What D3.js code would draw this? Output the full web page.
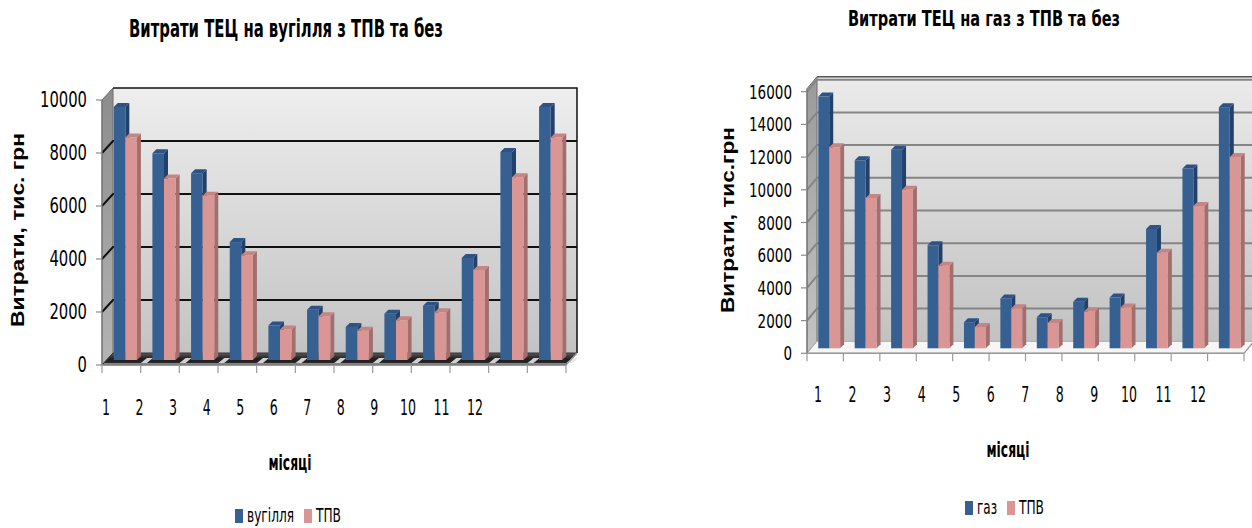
<!DOCTYPE html>
<html>
<head>
<meta charset="utf-8">
<script src="https://cdn.jsdelivr.net/npm/d3@7/dist/d3.min.js"></script>
<style>
  html, body { margin: 0; padding: 0; background: #ffffff; }
  svg { display: block; }
  .num { font-family: "Liberation Sans Narrow", "Arial Narrow", "DejaVu Sans Condensed", sans-serif; fill: #000; }
  .bold { font-family: "Liberation Sans Narrow", "Arial Narrow", "DejaVu Sans Condensed", sans-serif; font-weight: bold; fill: #000; }
  .ytitle { font-family: "Liberation Sans", Arial, sans-serif; font-weight: bold; fill: #000; }
</style>
</head>
<body>
<svg id="chart" width="1252" height="528"></svg>
<script>
// ---------- data ----------
const months = ["1","2","3","4","5","6","7","8","9","10","11","12"];

const coalTitle = "Витрати ТЕЦ на вугілля з ТПВ та без";
const coalSeriesNames = ["вугілля", "ТПВ"];
const coalValues = [9550, 7800, 7050, 4450, 1300, 1900, 1250, 1750, 2050, 3850, 7850, 9550];
const coalTPV    = [8400, 6850, 6200, 3950, 1150, 1650, 1100, 1500, 1800, 3400, 6900, 8400];
const coalTicks  = [0, 2000, 4000, 6000, 8000, 10000];

const gasTitle = "Витрати ТЕЦ на газ з ТПВ та без";
const gasSeriesNames = ["газ", "ТПВ"];
const gasValues = [15400, 11500, 12150, 6300, 1600, 3050, 1900, 2850, 3100, 7300, 11000, 14750];
const gasTPV    = [12300, 9200, 9700, 5050, 1300, 2450, 1550, 2250, 2500, 5850, 8700, 11700];
const gasTicks  = [0, 2000, 4000, 6000, 8000, 10000, 12000, 14000, 16000];

const xTitleText = "місяці";
const coalYTitle = "Витрати, тис. грн";
const gasYTitle = "Витрати, тис.грн";

// ---------- styles ----------
const colors = {
  blue:  { front: "#376092", side: "#22406a", top: "#2d5283" },
  pink:  { front: "#d99694", side: "#a46e6d", top: "#c58584" }
};

const svg = d3.select("#chart");
const defs = svg.append("defs");

function grad(id, stops, vertical) {
  const g = defs.append("linearGradient").attr("id", id)
    .attr("x1", 0).attr("y1", 0).attr("x2", vertical ? 0 : 1).attr("y2", vertical ? 1 : 0);
  stops.forEach(s => g.append("stop").attr("offset", s[0]).attr("stop-color", s[1]));
}
grad("backL", [[0, "#eeeeee"], [1, "#c3c3c3"]], true);
grad("sideL", [[0, "#8c8c8c"], [1, "#b4b4b4"]], true);
grad("backR", [[0, "#ebebeb"], [1, "#c2c2c2"]], true);
grad("sideR", [[0, "#9a9a9a"], [1, "#c4c4c4"]], true);
grad("floorL", [[0, "#5a5a5a"], [0.5, "#1e1e1e"], [1, "#2c2c2c"]], true);

function drawChart(cfg) {
  const g = svg.append("g");
  const x = d3.scaleBand().domain(months).range([cfg.ax0, cfg.ax1]).paddingInner(0.4).paddingOuter(0.2);
  const y = d3.scaleLinear().domain([0, cfg.max]).range([cfg.y0, cfg.yTop]);
  const [bx, by] = cfg.back;   // offset of back wall
  const [ox, oy] = cfg.barOff; // offset of bar fronts
  const [dx, dy] = cfg.depth;  // bar depth
  const wallTop = y(cfg.max) + by - cfg.wallExtra;

  // back wall
  g.append("path")
    .attr("d", `M${cfg.ax0 + bx},${y(0) + by} L${cfg.ax0 + bx},${wallTop} L${cfg.ax1 + bx},${wallTop} L${cfg.ax1 + bx},${y(0) + by} Z`)
    .attr("fill", `url(#${cfg.backGrad})`).attr("stroke", "none");
  // left side wall
  g.append("path")
    .attr("d", `M${cfg.ax0},${y(0)} L${cfg.ax0},${wallTop - by} L${cfg.ax0 + bx},${wallTop} L${cfg.ax0 + bx},${y(0) + by} Z`)
    .attr("fill", `url(#${cfg.sideGrad})`).attr("stroke", "#6d6d6d").attr("stroke-width", 1);
  // wall outlines
  g.append("path")
    .attr("d", `M${cfg.ax0 + bx},${wallTop} L${cfg.ax1 + bx},${wallTop} L${cfg.ax1 + bx},${y(0) + by}`)
    .attr("fill", "none").attr("stroke", cfg.wallEdge).attr("stroke-width", 1.5);

  // gridlines
  cfg.ticks.filter(t => t > 0 && t < cfg.max || (t === cfg.max && cfg.gridTop)).forEach(t => {
    g.append("path")
      .attr("d", `M${cfg.ax0},${y(t)} L${cfg.ax0 + bx},${y(t) + by} L${cfg.ax1 + bx},${y(t) + by}`)
      .attr("fill", "none").attr("stroke", cfg.gridColor).attr("stroke-width", cfg.gridWidth);
  });

  // floor
  g.append("path")
    .attr("d", `M${cfg.ax0},${y(0)} L${cfg.ax1},${y(0)} L${cfg.ax1 + bx},${y(0) + by} L${cfg.ax0 + bx},${y(0) + by} Z`)
    .attr("fill", cfg.floorFill).attr("stroke", cfg.floorStroke).attr("stroke-width", 1);
  if (cfg.floorShine) {
    months.forEach((m, i) => {
      const xs = x(m) + x.bandwidth() + ox + 4;
      g.append("path")
        .attr("d", `M${xs},${y(0) - 2} L${xs + 6},${y(0) - 2} L${xs + 12},${y(0) + by + 5} L${xs + 6},${y(0) + by + 5} Z`)
        .attr("fill", "#e4e4e4").attr("opacity", 0.9);
    });
    g.append("line").attr("x1", cfg.ax0 + 2).attr("x2", cfg.ax1).attr("y1", y(0) - 1.5).attr("y2", y(0) - 1.5)
      .attr("stroke", "#7c9a3c").attr("stroke-width", 1.2);
  }

  // bars
  const bw = x.bandwidth() / 2;
  const series = [
    { vals: cfg.s1, col: colors.blue, k: 0 },
    { vals: cfg.s2, col: colors.pink, k: 1 }
  ];
  months.forEach((m, i) => {
    series.forEach(s => {
      const v = s.vals[i];
      const x0 = x(m) + ox + s.k * bw;
      const x1 = x0 + bw;
      const yb = y(0) + oy;
      const yt = y(v) + oy;
      g.append("path").attr("d", `M${x1},${yb} L${x1},${yt} L${x1 + dx},${yt + dy} L${x1 + dx},${yb + dy} Z`)
        .attr("fill", s.col.side);
      g.append("path").attr("d", `M${x0},${yt} L${x1},${yt} L${x1 + dx},${yt + dy} L${x0 + dx},${yt + dy} Z`)
        .attr("fill", s.col.top);
      g.append("rect").attr("x", x0).attr("y", yt).attr("width", bw).attr("height", yb - yt)
        .attr("fill", s.col.front);
    });
  });

  // value axis line and ticks
  g.append("line").attr("x1", cfg.ax0).attr("x2", cfg.ax0).attr("y1", y(0)).attr("y2", wallTop - by)
    .attr("stroke", "#7a7a7a").attr("stroke-width", 1.2);
  cfg.ticks.forEach(t => {
    const s = String(t);
    g.append("line").attr("x1", cfg.ax0 - 6).attr("x2", cfg.ax0).attr("y1", y(t)).attr("y2", y(t))
      .attr("stroke", "#8a8a8a").attr("stroke-width", 1.2);
    g.append("text").attr("class", "num").attr("x", cfg.ax0 - 15).attr("y", y(t))
      .attr("text-anchor", "end").attr("dominant-baseline", "central")
      .attr("font-size", cfg.yLabelSize)
      .attr("textLength", s.length * cfg.yDigitW).attr("lengthAdjust", "spacingAndGlyphs").text(s);
  });

  // category axis
  g.append("line").attr("x1", cfg.ax0).attr("x2", cfg.ax1).attr("y1", y(0)).attr("y2", y(0))
    .attr("stroke", "#9a9a9a").attr("stroke-width", 1.5);
  g.append("line").attr("x1", cfg.ax1).attr("x2", cfg.ax1 + bx).attr("y1", y(0)).attr("y2", y(0) + by)
    .attr("stroke", "#9a9a9a").attr("stroke-width", 1.2);
  const stepTicks = d3.range(months.length + 1).map(i => cfg.ax0 + i * x.step());
  stepTicks.forEach(tx => {
    g.append("line").attr("x1", tx).attr("x2", tx).attr("y1", y(0)).attr("y2", y(0) + 8)
      .attr("stroke", "#9a9a9a").attr("stroke-width", 1.2);
  });
  const lx = d3.scalePoint().domain(months).range(cfg.labelRange);
  months.forEach(m => {
    g.append("text").attr("class", "num").attr("x", lx(m)).attr("y", cfg.labelY)
      .attr("text-anchor", "middle").attr("font-size", 21)
      .attr("textLength", m.length * 8).attr("lengthAdjust", "spacingAndGlyphs").text(m);
  });

  // titles
  g.append("text").attr("class", "bold").attr("x", cfg.title.x).attr("y", cfg.title.y)
    .attr("text-anchor", "middle").attr("font-size", cfg.title.size)
    .attr("textLength", cfg.title.len).attr("lengthAdjust", "spacingAndGlyphs").text(cfg.title.text);
  g.append("text").attr("class", "bold").attr("x", cfg.xTitle.x).attr("y", cfg.xTitle.y)
    .attr("text-anchor", "middle").attr("font-size", 22)
    .attr("textLength", 43).attr("lengthAdjust", "spacingAndGlyphs").text(xTitleText);
  g.append("text").attr("class", "ytitle")
    .attr("transform", `translate(${cfg.yTitle.x},${cfg.yTitle.y}) rotate(-90)`)
    .attr("text-anchor", "middle").attr("dominant-baseline", "central").attr("font-size", 19)
    .attr("textLength", cfg.yTitle.len).attr("lengthAdjust", "spacingAndGlyphs").text(cfg.yTitle.text);

  // legend
  const L = cfg.legend;
  let cx = L.x;
  cfg.names.forEach((n, i) => {
    const c = i === 0 ? colors.blue.front : colors.pink.front;
    g.append("rect").attr("x", cx).attr("y", L.y).attr("width", 8).attr("height", 14).attr("fill", c);
    g.append("text").attr("class", "num").attr("x", cx + 12).attr("y", L.y + 13)
      .attr("font-size", 19).attr("textLength", L.lens[i]).attr("lengthAdjust", "spacingAndGlyphs").text(n);
    cx += 12 + L.lens[i] + 10;
  });
}

drawChart({
  ax0: 102, ax1: 566, y0: 365, yTop: 100, max: 10000, ticks: coalTicks,
  back: [11, -12], barOff: [4, -5], depth: [4, -4], wallExtra: 0,
  backGrad: "backL", sideGrad: "sideL", wallEdge: "#111", gridColor: "#111", gridWidth: 2, gridTop: false,
  floorFill: "url(#floorL)", floorStroke: "#333", floorShine: true,
  s1: coalValues, s2: coalTPV, names: coalSeriesNames,
  yLabelSize: 21, yDigitW: 9.4, labelRange: [106, 475], labelY: 415,
  title: { text: coalTitle, x: 286, y: 37, size: 25, len: 314 },
  xTitle: { x: 290, y: 470 },
  yTitle: { text: coalYTitle, x: 17, y: 230, len: 194 },
  legend: { x: 235, y: 509, lens: [47, 25] }
});

drawChart({
  ax0: 807, ax1: 1244, y0: 353.3, yTop: 91.7, max: 16000, ticks: gasTicks,
  back: [10, -12], barOff: [4, -5], depth: [4, -4], wallExtra: 3,
  backGrad: "backR", sideGrad: "sideR", wallEdge: "#555", gridColor: "#858585", gridWidth: 2, gridTop: true,
  floorFill: "#f6f6f6", floorStroke: "#a8a8a8", floorShine: false,
  s1: gasValues, s2: gasTPV, names: gasSeriesNames,
  yLabelSize: 19, yDigitW: 8.6, labelRange: [818, 1198], labelY: 402,
  title: { text: gasTitle, x: 984, y: 26, size: 21, len: 272 },
  xTitle: { x: 1008, y: 457 },
  yTitle: { text: gasYTitle, x: 727, y: 220, len: 186 },
  legend: { x: 965, y: 501, lens: [20, 25] }
});
</script>
</body>
</html>
